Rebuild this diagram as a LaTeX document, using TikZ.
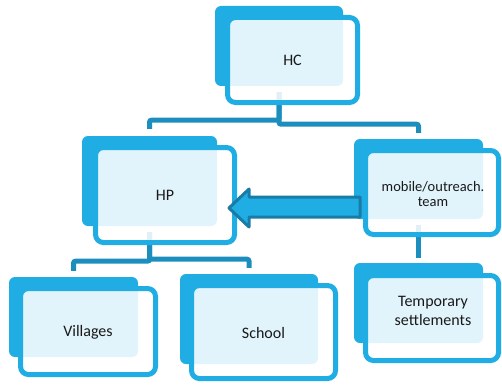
\documentclass[tikz,border=0pt]{standalone}
\usepackage{fontspec}
\setmainfont{Carlito}
\usetikzlibrary{calc}
\definecolor{boxblue}{RGB}{32,173,228}
\definecolor{linkblue}{RGB}{28,142,190}
\definecolor{arrowedge}{RGB}{24,124,166}
\definecolor{inktext}{RGB}{25,25,25}
\tikzset{
  backbox/.style={rectangle, rounded corners=6pt, fill=boxblue, inner sep=0pt},
  frontbox/.style={rectangle, rounded corners=8pt, draw=boxblue, line width=5pt,
                   fill=white, fill opacity=0.87, inner sep=0pt},
  link/.style={draw=linkblue, line width=5pt, rounded corners=2pt},
  lbl/.style={font=\fontsize{16}{19}\selectfont, text=inktext, inner sep=0pt,
              anchor=base, align=center},
  smalllbl/.style={lbl, font=\fontsize{14.5}{15}\selectfont},
  blockarrow/.style={draw=arrowedge, fill=boxblue, line width=3pt, line join=round},
}
\begin{document}
\begin{tikzpicture}[x=1pt,y=-1pt]
\useasboundingbox (0,0) rectangle (502,385);

% solid back panels
\node[backbox, minimum width=128pt, minimum height=80pt] (hcB)  at (279,46)    {};
\node[backbox, minimum width=135pt, minimum height=90pt] (hpB)  at (149.5,181) {};
\node[backbox, minimum width=129pt, minimum height=80pt] (vilB) at (73.5,317)  {};
\node[backbox, minimum width=138pt, minimum height=90pt] (schB) at (249,319)   {};
\node[backbox, minimum width=129pt, minimum height=80pt] (mobB) at (418.5,179) {};
\node[backbox, minimum width=129pt, minimum height=80pt] (tmpB) at (418.5,303) {};

% hierarchy connectors
\draw[link] (hcB.south) ++(0,6) -- ++(0,28) -| ([yshift=7pt]hpB.north);
\draw[link] (hcB.south) ++(0,6) -- ++(0,32) -| ([yshift=6pt]mobB.north);
\draw[link] (hpB.south) ++(0,6) -- ++(0,29) -| ([yshift=6pt]vilB.north);
\draw[link] (hpB.south) ++(0,6) -- ++(0,27) -| ([yshift=6pt]schB.north);
\draw[link] (mobB.south) ++(0,6) -- ([yshift=5pt]tmpB.north);

% outlined front panels
\node[frontbox, minimum width=130pt, minimum height=85pt] (hcF)  at (292.5,60)  {};
\node[frontbox, minimum width=139pt, minimum height=95pt] (hpF)  at (165,195)   {};
\node[frontbox, minimum width=135pt, minimum height=86pt] (vilF) at (88,331.5)  {};
\node[frontbox, minimum width=144pt, minimum height=93pt] (schF) at (263.5,332) {};
\node[frontbox, minimum width=133pt, minimum height=84pt] (mobF) at (432,192.5) {};
\node[frontbox, minimum width=133pt, minimum height=85pt] (tmpF) at (432,318)   {};

% block arrow from the outreach team to HP
\coordinate (arrTail) at (360,207);
\coordinate (arrTip)  at (229,208);
\draw[blockarrow] (arrTip) -- ++(20,-19) -- ++(0,8) -- ($(arrTail)+(0,-10)$)
  -- ($(arrTail)+(0,10)$) -- ++(-111,0) -- ++(0,10) -- cycle;

% labels (multi-line nodes are anchored on their last baseline)
\node[lbl] (hcT)  at (292.5,65.5) {HC};
\node[lbl] (hpT)  at (165,200)    {HP};
\node[lbl] (vilT) at (88,336.5)   {Villages};
\node[lbl] (schT) at (263.5,338)  {School};
\node[smalllbl] (mobT) at (433,206.7) {mobile/outreach.\\team};
\node[lbl] (tmpT) at (433,325)    {Temporary\\settlements};
\end{tikzpicture}
\end{document}
